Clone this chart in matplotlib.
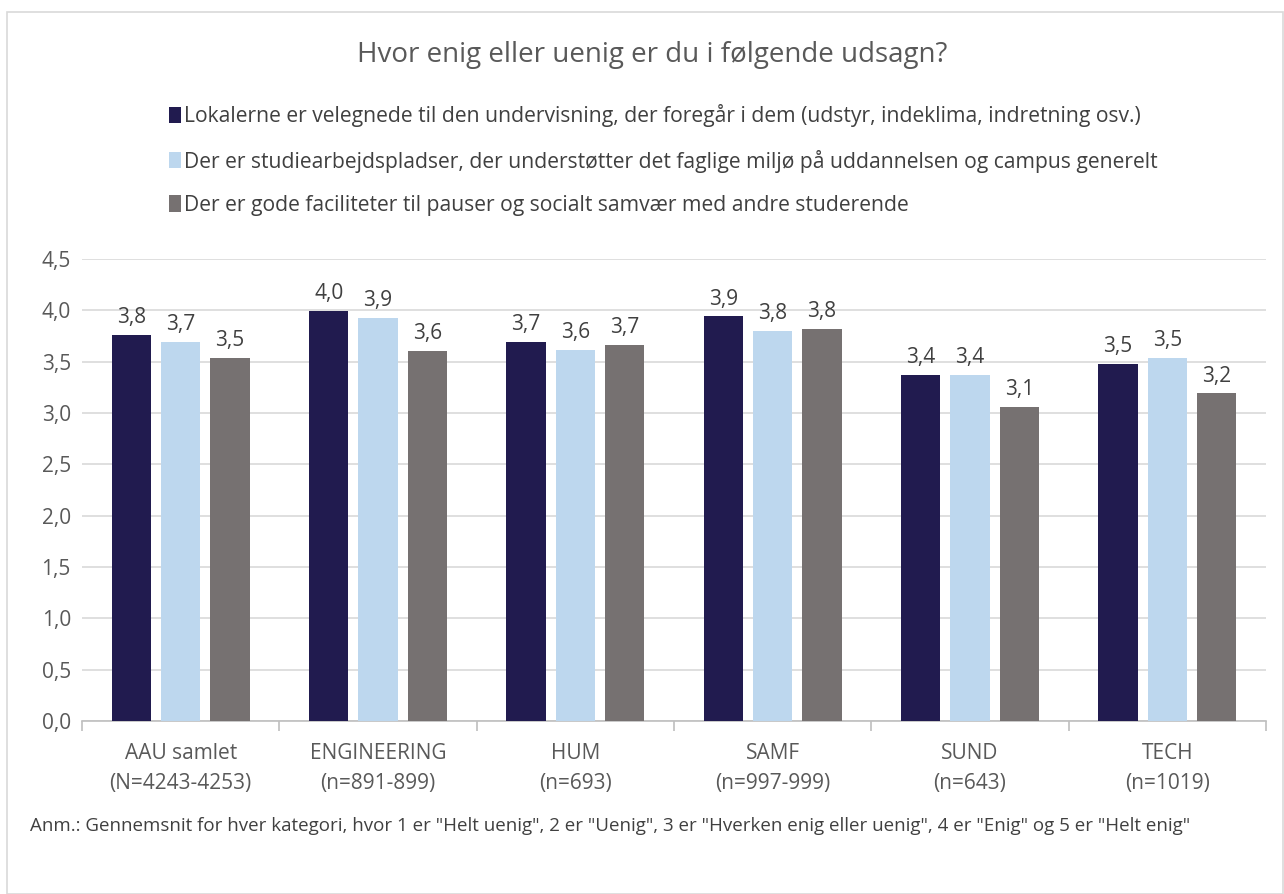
import matplotlib
matplotlib.use("Agg")
import matplotlib.pyplot as plt
import numpy as np
from matplotlib.patches import Rectangle, Patch
from matplotlib.ticker import FixedLocator, FuncFormatter

plt.rcParams['font.family'] = ['Open Sans', 'DejaVu Sans']

categories = ["AAU samlet\n(N=4243-4253)", "ENGINEERING\n(n=891-899)", "HUM\n(n=693)",
              "SAMF\n(n=997-999)", "SUND\n(n=643)", "TECH\n(n=1019)"]
series_names = [
    "Lokalerne er velegnede til den undervisning, der foregår i dem (udstyr, indeklima, indretning osv.)",
    "Der er studiearbejdspladser, der understøtter det faglige miljø på uddannelsen og campus generelt",
    "Der er gode faciliteter til pauser og socialt samvær med andre studerende",
]
lokaler = [3.76, 3.99, 3.69, 3.94, 3.37, 3.48]
studiepladser = [3.69, 3.93, 3.61, 3.80, 3.37, 3.54]
faciliteter = [3.54, 3.60, 3.66, 3.82, 3.06, 3.19]
values = [lokaler, studiepladser, faciliteter]
colors = ["#211B4F", "#BDD7EE", "#767171"]
yticks = [0.0, 0.5, 1.0, 1.5, 2.0, 2.5, 3.0, 3.5, 4.0, 4.5]

text_color = "#595959"
fig = plt.figure(figsize=(12.84, 8.94), dpi=100)
fig.patches.append(Rectangle((7/1284, 0.0), 1 - 7/1284 - 0.001, 1 - 12/894, transform=fig.transFigure,
                             fill=False, edgecolor="#d9d9d9", linewidth=1.2))

ax = fig.add_axes([82/1284, 1 - 721/894, (1266 - 82)/1284, (721 - 259)/894])
x = np.arange(len(categories))
width = 0.2
offsets = [-0.25, 0.0, 0.25]
for vals, col, off, name in zip(values, colors, offsets, series_names):
    bars = ax.bar(x + off, vals, width=width, color=col, label=name, zorder=3)
    for b, v in zip(bars, vals):
        ax.annotate(f"{v:.1f}".replace(".", ","), (b.get_x() + b.get_width()/2, v),
                    xytext=(0, 5), textcoords="offset points", ha="center", va="bottom",
                    fontsize=15, color="#404040")

ax.set_xlim(-0.5, len(categories) - 0.5)
ax.set_ylim(0, 4.5)
ax.yaxis.set_major_locator(FixedLocator(yticks))
ax.yaxis.set_major_formatter(FuncFormatter(lambda v, p: f"{v:.1f}".replace(".", ",")))
ax.grid(axis="y", color="#d9d9d9", linewidth=1.2, zorder=0)
ax.set_xticks(x)
ax.set_xticklabels(categories, fontsize=15, color=text_color, linespacing=1.6)
ax.set_xticks(np.arange(len(categories) + 1) - 0.5, minor=True)
ax.tick_params(axis="x", which="major", length=0, pad=15.5)
ax.tick_params(axis="x", which="minor", length=7, color="#bfbfbf", width=1.2)
ax.tick_params(axis="y", length=0, labelsize=15, labelcolor=text_color, pad=8)
for s in ["top", "right", "left"]:
    ax.spines[s].set_visible(False)
ax.spines["bottom"].set_color("#bfbfbf")
ax.spines["bottom"].set_linewidth(1.2)

fig.text(652/1284, 1 - 55/894, "Hvor enig eller uenig er du i følgende udsagn?", ha="center", va="center",
         fontsize=20, color=text_color)

handles = [Patch(facecolor=c) for c in colors]
fig.legend(handles, series_names, loc="upper left", bbox_to_anchor=(161/1284, 1 - 96/894),
           frameon=False, fontsize=15.2, labelcolor="#404040", handlelength=0.55, handleheight=0.8,
           handletextpad=0.15, labelspacing=1.05, borderaxespad=0)

fig.text(30/1284, 1 - 826/894,
         'Anm.: Gennemsnit for hver kategori, hvor 1 er "Helt uenig", 2 er "Uenig", 3 er "Hverken enig eller uenig", 4 er "Enig" og 5 er "Helt enig"',
         ha="left", va="center", fontsize=13.5, color="#404040")

fig.savefig("out.png", dpi=100)
